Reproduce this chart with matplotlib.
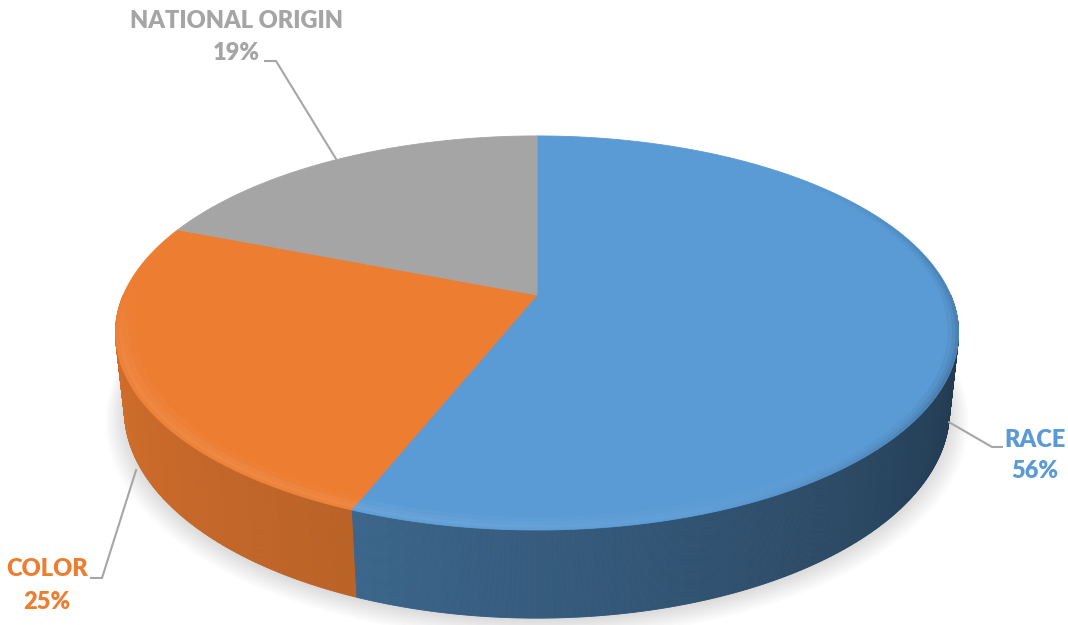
import numpy as np
import matplotlib
matplotlib.use("Agg")
import matplotlib.pyplot as plt
from matplotlib.patches import Polygon
from matplotlib.collections import PolyCollection, LineCollection
from matplotlib.colors import to_rgb

# ---- data -------------------------------------------------------------
categories = ["RACE", "COLOR", "NATIONAL ORIGIN"]
shares = [56, 25, 19]
slice_colors = ["#5B9BD5", "#ED7D31", "#A5A5A5"]
label_texts = ["56%", "25%", "19%"]

# ---- 3-D view of the disc ---------------------------------------------
ELEV = np.radians(27.3)      # camera elevation above the disc plane
DIST = 4.61                  # camera distance (in disc radii)
FOCAL = 1907.0               # projection scale (pixels)
THICK = 0.212                # disc thickness (in disc radii)
CX, CY = 537.0, 295.0        # where the disc centre lands on the canvas
sE, cE = np.sin(ELEV), np.cos(ELEV)


def project(theta, w=0.0, r=1.0):
    """Perspective projection of a point on the disc (angle, height, radius)."""
    u = r * np.cos(theta)
    v = r * np.sin(theta)
    depth = DIST + v * cE - w * sE
    x = CX + FOCAL * u / depth
    y = CY - FOCAL * (v * sE + w * cE) / depth
    return x, y


fig = plt.figure(figsize=(10.68, 6.25), dpi=100)
ax = fig.add_axes([0, 0, 1, 1])
ax.set_xlim(0, 1068)
ax.set_ylim(625, 0)
ax.axis("off")

# slice boundaries: start at 12 o'clock, run clockwise
total = float(sum(shares))
cum = np.concatenate([[0.0], np.cumsum(shares)])
edges = np.radians(90.0 - 360.0 * cum / total)
mids = 0.5 * (edges[:-1] + edges[1:])


def slice_of(theta):
    t = (np.degrees(theta) - 90.0) % 360.0        # clockwise offset from top
    frac = (360.0 - t) % 360.0 / 360.0 * total
    return int(np.searchsorted(cum, frac, side="right") - 1) % len(shares)


def ring(a0, a1, r0, r1, w=0.0):
    return [project(a0, w, r0), project(a1, w, r0), project(a1, w, r1), project(a0, w, r1)]


# ---- soft floor shadow -------------------------------------------------
tt = np.linspace(0, 2 * np.pi, 400)
for k in range(12):
    r = 1.0 + 0.004 * k
    xs, ys = project(tt, -THICK, r)
    ax.add_patch(Polygon(np.column_stack([xs, ys + 2 + 0.5 * k]),
                         closed=True, facecolor="#000000", edgecolor="none",
                         alpha=0.012, zorder=1))

# ---- outer wall --------------------------------------------------------
strength = [1.0, 0.62, 0.8]


def darkness(theta):
    d = np.degrees(theta) % 360.0
    return np.interp(d, [180, 250, 300, 346, 360], [0.15, 0.35, 0.5, 0.63, 0.63])


n = 1440
ang = np.linspace(0, 2 * np.pi, n + 1)
quads, qcols, qdepth = [], [], []
for a0, a1 in zip(ang[:-1], ang[1:]):
    am = 0.5 * (a0 + a1)
    if np.sin(am) >= 0.0:
        continue
    x0t, y0t = project(a0, 0.0)
    x1t, y1t = project(a1, 0.0)
    x0b, y0b = project(a0, -THICK)
    x1b, y1b = project(a1, -THICK)
    quads.append([(x0t, y0t), (x1t, y1t), (x1b, y1b), (x0b, y0b)])
    i = slice_of(am)
    shade = 1.0 - darkness(am) * strength[i]
    qcols.append(tuple(np.clip(np.array(to_rgb(slice_colors[i])) * shade, 0, 1)))
    qdepth.append(np.sin(am))
order = np.argsort(qdepth)[::-1]
ax.add_collection(PolyCollection([quads[j] for j in order],
                                 facecolors=[qcols[j] for j in order],
                                 edgecolors=[qcols[j] for j in order],
                                 linewidths=0.6, zorder=2))

# ---- top faces -----------------------------------------------------------
for i in range(len(shares)):
    arc = np.linspace(edges[i], edges[i + 1], 300)
    xs, ys = project(arc, 0.0)
    pts = np.column_stack([np.r_[CX, xs], np.r_[CY, ys]])
    ax.add_patch(Polygon(pts, closed=True, facecolor=slice_colors[i],
                         edgecolor=slice_colors[i], linewidth=0.6, zorder=3))

# ---- rounded rim: soft highlight on the front edge ---------------------
band, bcols = [], []
ang2 = np.radians(np.linspace(175, 335, 400))
rims = [(0.955, 0.97, 0.25), (0.97, 0.982, 0.55), (0.982, 0.992, 0.8), (0.992, 1.0, 0.45)]
for a0, a1 in zip(ang2[:-1], ang2[1:]):
    am = 0.5 * (a0 + a1)
    i = slice_of(am)
    base = np.array(to_rgb(slice_colors[i]))
    light = base + (1 - base) * 0.16
    d = np.degrees(am)
    alpha = float(np.interp(d, [175, 200, 255, 300, 335], [0.0, 0.7, 0.75, 0.2, 0.0]))
    for r0, r1, k in rims:
        band.append(ring(a0, a1, r0, r1))
        bcols.append((*light, alpha * k))
ax.add_collection(PolyCollection(band, facecolors=bcols, edgecolors="none", zorder=4))

# shaded rim on the right-hand edge of the top
dark, dcols = [], []
ang3 = np.radians(np.linspace(-70, 45, 240))
drims = [(0.975, 0.985, 0.15), (0.985, 0.993, 0.35), (0.993, 1.0, 0.6)]
for a0, a1 in zip(ang3[:-1], ang3[1:]):
    am = 0.5 * (a0 + a1)
    d = np.degrees(am)
    alpha = float(np.interp(d, [-70, -25, 10, 45], [0.0, 0.5, 0.4, 0.0]))
    for r0, r1, k in drims:
        dark.append(ring(a0, a1, r0, r1))
        dcols.append((0.13, 0.24, 0.35, alpha * k))
ax.add_collection(PolyCollection(dark, facecolors=dcols, edgecolors="none", zorder=4))

# ---- labels and leader lines ------------------------------------------
font = dict(family=["Lato", "DejaVu Sans"], weight="heavy", fontsize=17)
label_pos = [(1035, 440, 471), (47, 569, 602), (236, 21, 53.5)]
elbows = [[(992, 447), (1003, 447)],
          [(102, 578), (90, 578)],
          [(276, 61), (264, 61)]]
leader_color = "#A6A6A6"

for i in range(len(shares)):
    x, y1, y2 = label_pos[i]
    ax.text(x, y1, categories[i], color=slice_colors[i], ha="center", va="center", **font)
    ax.text(x, y2, label_texts[i], color=slice_colors[i], ha="center", va="center", **font)
    if np.sin(mids[i]) < 0:
        anchor = project(mids[i], -1.15 * THICK)
    else:
        anchor = project(mids[i], 0.0)
    path = [anchor] + elbows[i]
    ax.add_collection(LineCollection([path], colors=leader_color, linewidths=1.5, zorder=5))

fig.savefig("out.png", dpi=100)
